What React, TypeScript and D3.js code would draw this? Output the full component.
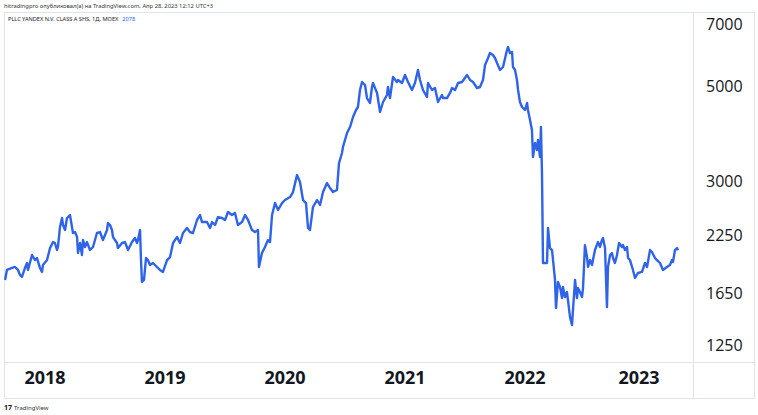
import React from "react";
import * as d3 from "d3";

const header = "hitradingpro опубликовал(а) на TradingView.com, Апр 28, 2023 12:12 UTC+3";
const title = "PLLC YANDEX N.V. CLASS A SHS, 1Д, MOEX";
const lastValue = "2078";

const yearTicks = [2018, 2019, 2020, 2021, 2022, 2023];
const priceTicks = [1250, 1650, 2250, 3000, 5000, 7000];

// decimal years
const dates = [
  2017.667, 2017.683, 2017.725, 2017.75, 2017.775, 2017.792, 2017.808, 2017.833, 2017.85, 2017.858,
  2017.892, 2017.917, 2017.933, 2017.958, 2017.975, 2017.983, 2018.017, 2018.042, 2018.067, 2018.083,
  2018.1, 2018.108, 2018.125, 2018.142, 2018.15, 2018.167, 2018.183, 2018.192, 2018.208, 2018.225,
  2018.233, 2018.25, 2018.267, 2018.275, 2018.292, 2018.308, 2018.317, 2018.333, 2018.35, 2018.375,
  2018.4, 2018.433, 2018.458, 2018.483, 2018.517, 2018.525, 2018.542, 2018.558, 2018.567, 2018.6,
  2018.608, 2018.642, 2018.667, 2018.692, 2018.725, 2018.75, 2018.767, 2018.775, 2018.792, 2018.8,
  2018.808, 2018.825, 2018.842, 2018.858, 2018.875, 2018.9, 2018.933, 2018.958, 2018.983, 2019.017,
  2019.042, 2019.067, 2019.1, 2019.125, 2019.15, 2019.183, 2019.208, 2019.233, 2019.267, 2019.292,
  2019.308, 2019.35, 2019.375, 2019.392, 2019.417, 2019.442, 2019.475, 2019.5, 2019.525, 2019.558,
  2019.583, 2019.608, 2019.642, 2019.667, 2019.692, 2019.725, 2019.75, 2019.775, 2019.783, 2019.808,
  2019.833, 2019.858, 2019.875, 2019.892, 2019.917, 2019.942, 2019.975, 2020.0, 2020.042, 2020.067,
  2020.1, 2020.125, 2020.15, 2020.175, 2020.192, 2020.208, 2020.233, 2020.267, 2020.292, 2020.317,
  2020.35, 2020.375, 2020.4, 2020.433, 2020.45, 2020.475, 2020.483, 2020.517, 2020.542, 2020.567,
  2020.592, 2020.608, 2020.625, 2020.642, 2020.667, 2020.683, 2020.708, 2020.725, 2020.733, 2020.767,
  2020.792, 2020.817, 2020.85, 2020.858, 2020.875, 2020.9, 2020.933, 2020.942, 2020.975, 2021.0,
  2021.025, 2021.058, 2021.083, 2021.108, 2021.125, 2021.15, 2021.183, 2021.192, 2021.225, 2021.25,
  2021.275, 2021.308, 2021.317, 2021.35, 2021.375, 2021.392, 2021.417, 2021.442, 2021.475, 2021.517,
  2021.542, 2021.567, 2021.6, 2021.625, 2021.65, 2021.667, 2021.692, 2021.708, 2021.733, 2021.75,
  2021.767, 2021.792, 2021.817, 2021.85, 2021.858, 2021.875, 2021.892, 2021.9, 2021.917, 2021.933,
  2021.942, 2021.958, 2021.975, 2022.0, 2022.018, 2022.026, 2022.044, 2022.061, 2022.07, 2022.088,
  2022.105, 2022.114, 2022.132, 2022.14, 2022.149, 2022.158, 2022.193, 2022.202, 2022.219, 2022.237,
  2022.246, 2022.263, 2022.272, 2022.289, 2022.307, 2022.325, 2022.333, 2022.351, 2022.368, 2022.377,
  2022.395, 2022.412, 2022.421, 2022.439, 2022.456, 2022.465, 2022.482, 2022.5, 2022.509, 2022.526,
  2022.544, 2022.553, 2022.57, 2022.588, 2022.596, 2022.614, 2022.64, 2022.658, 2022.675, 2022.684,
  2022.702, 2022.719, 2022.728, 2022.746, 2022.763, 2022.772, 2022.789, 2022.807, 2022.825, 2022.851,
  2022.86, 2022.877, 2022.895, 2022.904, 2022.921, 2022.947, 2022.965, 2022.991, 2023.025, 2023.05,
  2023.067, 2023.092, 2023.108, 2023.133, 2023.15, 2023.175, 2023.2, 2023.233, 2023.258, 2023.275,
  2023.283, 2023.3, 2023.317, 2023.325,
];

const prices = [
  1772, 1870, 1890, 1900, 1870, 1820, 1801, 1890, 1941, 1870,
  2026, 1972, 1994, 1890, 1850, 1920, 1972, 2103, 2172, 2161,
  2081, 2115, 2355, 2471, 2380, 2317, 2471, 2484, 2511, 2355,
  2280, 2292, 2231, 2048, 2161, 2026, 2196, 2115, 2172, 2081,
  2115, 2280, 2292, 2196, 2317, 2406, 2380, 2317, 2231, 2161,
  2103, 2161, 2172, 2081, 2172, 2219, 2161, 2196, 2317, 1972,
  1753, 1772, 1994, 1972, 1920, 1941, 1900, 1870, 1850, 1972,
  2004, 2161, 2231, 2161, 2280, 2342, 2292, 2280, 2445, 2511,
  2418, 2418, 2342, 2418, 2380, 2484, 2471, 2445, 2552, 2511,
  2538, 2380, 2418, 2511, 2445, 2317, 2292, 2317, 1900, 2048,
  2115, 2196, 2172, 2511, 2678, 2580, 2678, 2722, 2766, 2841,
  3112, 2997, 2722, 2678, 2342, 2317, 2621, 2722, 2650, 2841,
  2981, 2903, 2841, 2872, 3319, 3503, 3617, 3900, 4027, 4249,
  4412, 4484, 4912, 5128, 5046, 4705, 4581, 4992, 5100, 4834,
  4365, 4605, 4782, 4992, 4705, 5267, 5128, 5183, 5100, 5324,
  5128, 4912, 5100, 5469, 5183, 4912, 4731, 5100, 4912, 4965,
  4605, 4782, 4705, 4705, 4834, 4965, 4912, 5100, 5128, 5324,
  5183, 5128, 4965, 4992, 5183, 5617, 5832, 5991, 5927, 5832,
  5678, 5469, 5557, 6088, 6187, 5991, 6023, 5557, 5469, 5183,
  4912, 4605, 4484, 4412, 4581, 4412, 4181, 3963, 3428, 3695,
  3560, 3756, 3428, 4027, 3146, 1941, 1941, 2342, 2103, 2081,
  1972, 1772, 1524, 1753, 1706, 1608, 1706, 1617, 1661, 1591,
  1452, 1391, 1508, 1772, 1608, 1697, 1661, 1617, 1697, 2137,
  2004, 1900, 1972, 1920, 1972, 2081, 2172, 2115, 2196, 2219,
  2103, 1532, 1900, 2026, 2048, 1994, 1941, 2026, 2161, 2115,
  2137, 2081, 2115, 1994, 1972, 1870, 1791, 1840, 1850, 1941,
  1900, 2081, 2059, 1994, 1972, 1941, 1870, 1900, 1920, 1972,
  1951, 2081, 2103, 2078,
];

const toDate = (d: number) => {
  const y = Math.floor(d);
  const s = new Date(y, 0, 1).getTime();
  const e = new Date(y + 1, 0, 1).getTime();
  return new Date(s + (d - y) * (e - s));
};

export default function App() {
  const W = 758, H = 415;
  const frame = { l: 4, t: 12, r: 754, b: 398 };
  const plotR = 693, plotB = 362;

  const x = d3
    .scaleTime()
    .domain([2017, 2018, 2019, 2020, 2021, 2022, 2023, 2024].map((y) => new Date(y, 0, 1)))
    .range([-75, 45, 165, 285, 405, 525, 639, 759]);
  const y = d3.scaleLog().domain([1250, 7000]).range([345, 24]);

  const data = dates.map((d, i) => ({ date: toDate(d), value: prices[i] }));
  const line = d3
    .line<{ date: Date; value: number }>()
    .x((d) => x(d.date))
    .y((d) => y(d.value));

  const axisFont = "'Open Sans', 'Noto Sans', sans-serif";

  return (
    <div style={{ position: "fixed", left: 0, top: 0 }}>
      <svg width={W} height={H} style={{ display: "block", background: "#fff" }}>
        <defs>
          <clipPath id="plotClip">
            <rect x={frame.l} y={frame.t} width={plotR - frame.l} height={plotB - frame.t} />
          </clipPath>
        </defs>
        <rect x={0} y={0} width={W} height={H} fill="#fff" />
        <text x={4} y={8} fontSize={5.8} fill="#333" fontFamily="'Noto Sans', sans-serif">
          {header}
        </text>
        <rect
          x={frame.l + 0.5}
          y={frame.t + 0.5}
          width={frame.r - frame.l}
          height={frame.b - frame.t}
          fill="none"
          stroke="#e0e3eb"
        />
        <line x1={plotR + 0.5} x2={plotR + 0.5} y1={frame.t} y2={frame.b} stroke="#e0e3eb" />
        <line x1={frame.l} x2={frame.r} y1={plotB + 0.5} y2={plotB + 0.5} stroke="#e0e3eb" />
        <text x={8} y={21} fontSize={5.6} fill="#131722" fontFamily="'Noto Sans', sans-serif">
          {title}
          <tspan dx={4} fill="#2962ff">{lastValue}</tspan>
        </text>
        <g clipPath="url(#plotClip)">
          <path d={line(data) || ""} fill="none" stroke="#2f63e8" strokeWidth={2.4} strokeLinejoin="round" />
        </g>
        {priceTicks.map((t) => (
          <text
            key={t}
            x={706}
            y={y(t)}
            dy="0.35em"
            fontSize={16}
            fill="#131722"
            fontFamily={axisFont}
          >
            {t}
          </text>
        ))}
        {yearTicks.map((t) => (
          <text
            key={t}
            x={x(new Date(t, 0, 1))}
            y={384}
            textAnchor="middle"
            fontSize={18}
            fontWeight="bold"
            fill="#131722"
            fontFamily={axisFont}
          >
            {t}
          </text>
        ))}
        <text x={4} y={410} fontSize={7} fontWeight="bold" fill="#131722" fontFamily="'Noto Sans', sans-serif">
          17
        </text>
        <text x={14} y={410} fontSize={6} fill="#333" fontFamily="'Noto Sans', sans-serif">
          TradingView
        </text>
      </svg>
    </div>
  );
}
